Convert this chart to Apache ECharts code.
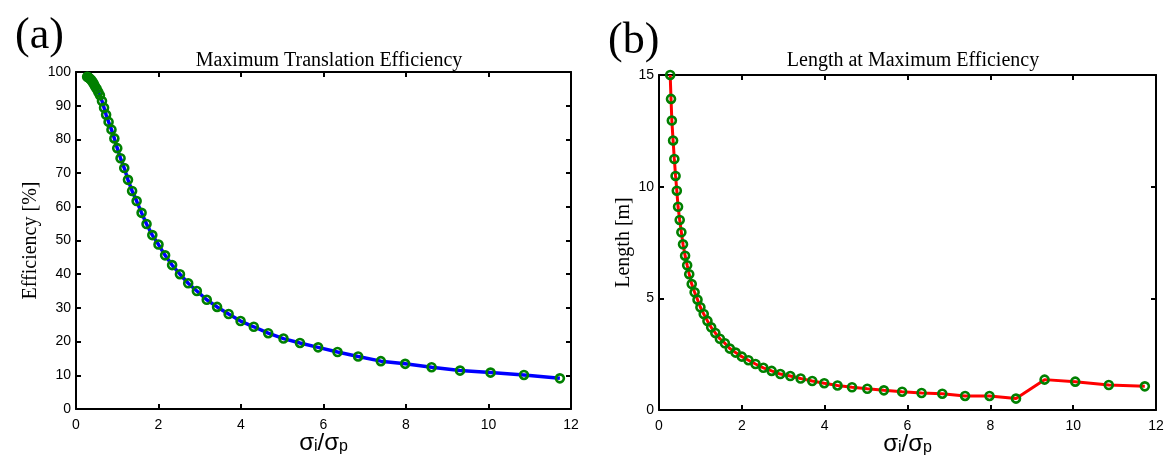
<!DOCTYPE html>
<html>
<head>
<meta charset="utf-8">
<script src="https://cdn.jsdelivr.net/npm/echarts@6/dist/echarts.min.js"></script>
<style>
html,body{margin:0;padding:0;background:#fff;}
#c{width:1168px;height:459px;}
</style>
</head>
<body>
<div id="c"></div>
<script>
// sigma_i / sigma_p values (shared by both panels)
const ratio = [0.27,0.29,0.31,0.34,0.37,0.40,0.43,0.46,0.50,0.54,
  0.58,0.63,0.68,0.73,0.79,0.86,0.93,1.00,1.08,1.17,
  1.26,1.36,1.47,1.59,1.71,1.85,2.00,2.16,2.33,2.52,
  2.72,2.93,3.17,3.42,3.70,3.99,4.31,4.66,5.03,5.43,
  5.87,6.34,6.84,7.39,7.98,8.62,9.31,10.05,10.86,11.73];
// panel (a): maximum translation efficiency [%]
const efficiency = [98.6,98.5,98.3,98.0,97.6,97.1,96.5,95.8,95.0,94.1,
  93.1,91.4,89.4,87.3,85.2,82.9,80.3,77.4,74.4,71.5,
  68.0,64.7,61.7,58.2,54.9,51.6,48.8,45.6,42.7,40.0,
  37.3,35.0,32.4,30.3,28.2,26.1,24.4,22.5,20.9,19.6,
  18.3,16.9,15.6,14.2,13.4,12.4,11.4,10.8,10.1,9.1];
// panel (b): length at maximum efficiency [m]
const lengthM = [15.0,13.93,12.96,12.07,11.24,10.48,9.82,9.10,8.51,7.96,
  7.42,6.91,6.48,6.08,5.64,5.27,4.94,4.60,4.30,3.99,
  3.70,3.45,3.19,2.99,2.75,2.57,2.39,2.23,2.06,1.89,
  1.75,1.61,1.52,1.41,1.30,1.20,1.10,1.02,0.95,0.88,
  0.82,0.76,0.73,0.63,0.63,0.51,1.36,1.27,1.12,1.06];

const titleA = 'Maximum Translation Efficiency';
const titleB = 'Length at Maximum Efficiency';

const chart = echarts.init(document.getElementById('c'));
const SANS = 'Liberation Sans, Arial, sans-serif';
const SERIF = 'Liberation Serif, Times New Roman, serif';

function xAx(grid, main){
  return {
    type:'value', gridIndex:grid, min:0, max:12, interval:2,
    position: main ? 'bottom':'top',
    axisLine:{show:true,onZero:false,lineStyle:{color:'#000',width:2}},
    axisTick:{show:true,inside:true,length:5,lineStyle:{color:'#000',width:2}},
    axisLabel:{show:main,color:'#000',fontSize:14,fontFamily:SANS,margin:9},
    splitLine:{show:false},
    name: main ? '{s|σ}{b|i}{s|/σ}{b|p}' : '',
    nameLocation:'middle', nameGap:22, nameMoveOverlap:false,
    nameTextStyle:{rich:{
      s:{fontFamily:SANS,fontSize:24,color:'#000',verticalAlign:'top',lineHeight:24},
      b:{fontFamily:SANS,fontSize:16,color:'#000',verticalAlign:'bottom',lineHeight:16,padding:[19,0,0,0]}
    }}
  };
}
function yAx(grid, main, max, interval, name, gap){
  return {
    type:'value', gridIndex:grid, min:0, max:max, interval:interval,
    position: main ? 'left':'right',
    axisLine:{show:true,onZero:false,lineStyle:{color:'#000',width:2}},
    axisTick:{show:true,inside:true,length:5,lineStyle:{color:'#000',width:2}},
    axisLabel:{show:main,color:'#000',fontSize:14,fontFamily:SANS,margin:5},
    splitLine:{show:false},
    name: main ? name : '',
    nameLocation:'middle', nameGap:gap, nameRotate:90, nameMoveOverlap:false,
    nameTextStyle:{fontFamily:SERIF,fontSize:20,color:'#000'}
  };
}
function pairs(xs, ys){ return xs.map((x,i)=>[x, ys[i]]); }

chart.setOption({
  animation:false,
  backgroundColor:'#fff',
  title:[
    {text:titleA,left:324,top:46,textAlign:'center',textStyle:{fontFamily:SERIF,fontSize:20,fontWeight:'normal',color:'#000'}},
    {text:titleB,left:908,top:46,textAlign:'center',textStyle:{fontFamily:SERIF,fontSize:20,fontWeight:'normal',color:'#000'}},
    {text:'(a)',left:10,top:9,textStyle:{fontFamily:SERIF,fontSize:44,fontWeight:'normal',color:'#000'}},
    {text:'(b)',left:603,top:14,textStyle:{fontFamily:SERIF,fontSize:44,fontWeight:'normal',color:'#000'}}
  ],
  grid:[
    {left:76,right:597,top:72,bottom:50,containLabel:false,outerBoundsMode:'none'},
    {left:659,right:12,top:75,bottom:49,containLabel:false,outerBoundsMode:'none'}
  ],
  xAxis:[xAx(0,true),xAx(0,false),xAx(1,true),xAx(1,false)],
  yAxis:[yAx(0,true,100,10,'Efficiency [%]',35),yAx(0,false,100,10,'',0),
         yAx(1,true,15,5,'Length [m]',25),yAx(1,false,15,5,'',0)],
  series:[
    {type:'line',xAxisIndex:0,yAxisIndex:0,data:pairs(ratio,efficiency),clip:false,
     symbol:'circle',symbolSize:8,
     lineStyle:{color:'#0000ff',width:3.5},
     itemStyle:{color:'rgba(0,0,0,0)',borderColor:'#008000',borderWidth:2.6}},
    {type:'line',xAxisIndex:2,yAxisIndex:2,data:pairs(ratio,lengthM),clip:false,
     symbol:'circle',symbolSize:8,
     lineStyle:{color:'#ff0000',width:3},
     itemStyle:{color:'rgba(0,0,0,0)',borderColor:'#008000',borderWidth:2.6}}
  ]
});
</script>
</body>
</html>
